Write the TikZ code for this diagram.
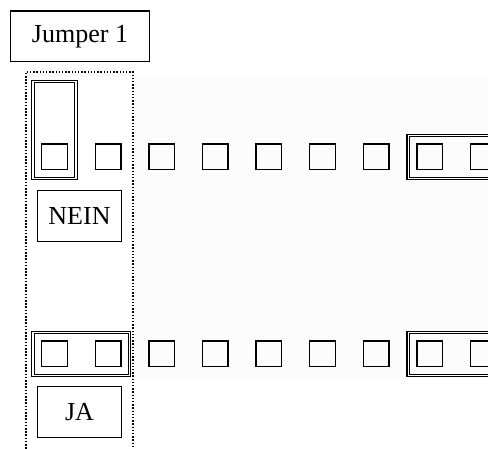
\documentclass[tikz,border=0pt]{standalone}
\usepackage{fontspec}
\setmainfont{Liberation Serif}
\usepackage{tikz}
\usetikzlibrary{positioning,fit}
\usepackage{xcolor}
\definecolor{jpback}{RGB}{252,252,252}
\tikzstyle{pin} = [rectangle, draw, line width=1.4pt, minimum width=25.6pt, minimum height=25.6pt, inner sep=0pt]
\tikzstyle{jumper} = [rectangle, draw, double, line width=1.2pt, double distance=1.3pt, inner sep=8pt]
\tikzstyle{tag} = [rectangle, draw, line width=1.4pt, minimum width=83.6pt, minimum height=50.6pt, font=\fontsize{26}{30}\selectfont]
\tikzstyle{frame} = [line width=1.5pt, dash pattern=on 1.5pt off 1.7pt]
\begin{document}
\begin{tikzpicture}[x=1pt, y=1pt, node distance=26.6pt]
\useasboundingbox (0,0) rectangle (488,-449);
\fill[jpback] (133,-78) rectangle (488,-378);

% Upper pin row
\node (t1) [pin] at (54.5,-157) {};
\node (t2) [pin, right=of t1] {};
\node (t3) [pin, right=of t2] {};
\node (t4) [pin, right=of t3] {};
\node (t5) [pin, right=of t4] {};
\node (t6) [pin, right=of t5] {};
\node (t7) [pin, right=of t6] {};
\node (t8) [pin, right=of t7] {};
\node (t9) [pin, right=of t8] {};

% Lower pin row
\node (b1) [pin, below=169.9pt of t1] {};
\node (b2) [pin, right=of b1] {};
\node (b3) [pin, right=of b2] {};
\node (b4) [pin, right=of b3] {};
\node (b5) [pin, right=of b4] {};
\node (b6) [pin, right=of b5] {};
\node (b7) [pin, right=of b6] {};
\node (b8) [pin, right=of b7] {};
\node (b9) [pin, right=of b8] {};

% Jumpers
\coordinate (t1top) at ([yshift=54pt]t1.north);
\node (jumpno) [jumper, fit=(t1top)(t1)] {};
\node (jumpyes) [jumper, fit=(b1)(b2)] {};
\node (jumpup) [jumper, fit=(t8)(t9)] {};
\node (jumplow) [jumper, fit=(b8)(b9)] {};

% Labels
\node (title) [tag, minimum width=138.6pt] at (80,-36.5) {Jumper 1};
\node (nein) [tag] at (79.5,-216) {NEIN};
\node (ja) [tag] at (79.5,-412) {JA};

% Dotted frame
\draw[frame] (26,-452) -- (26,-72) -- (133,-72) -- (133,-452);
\end{tikzpicture}
\end{document}
